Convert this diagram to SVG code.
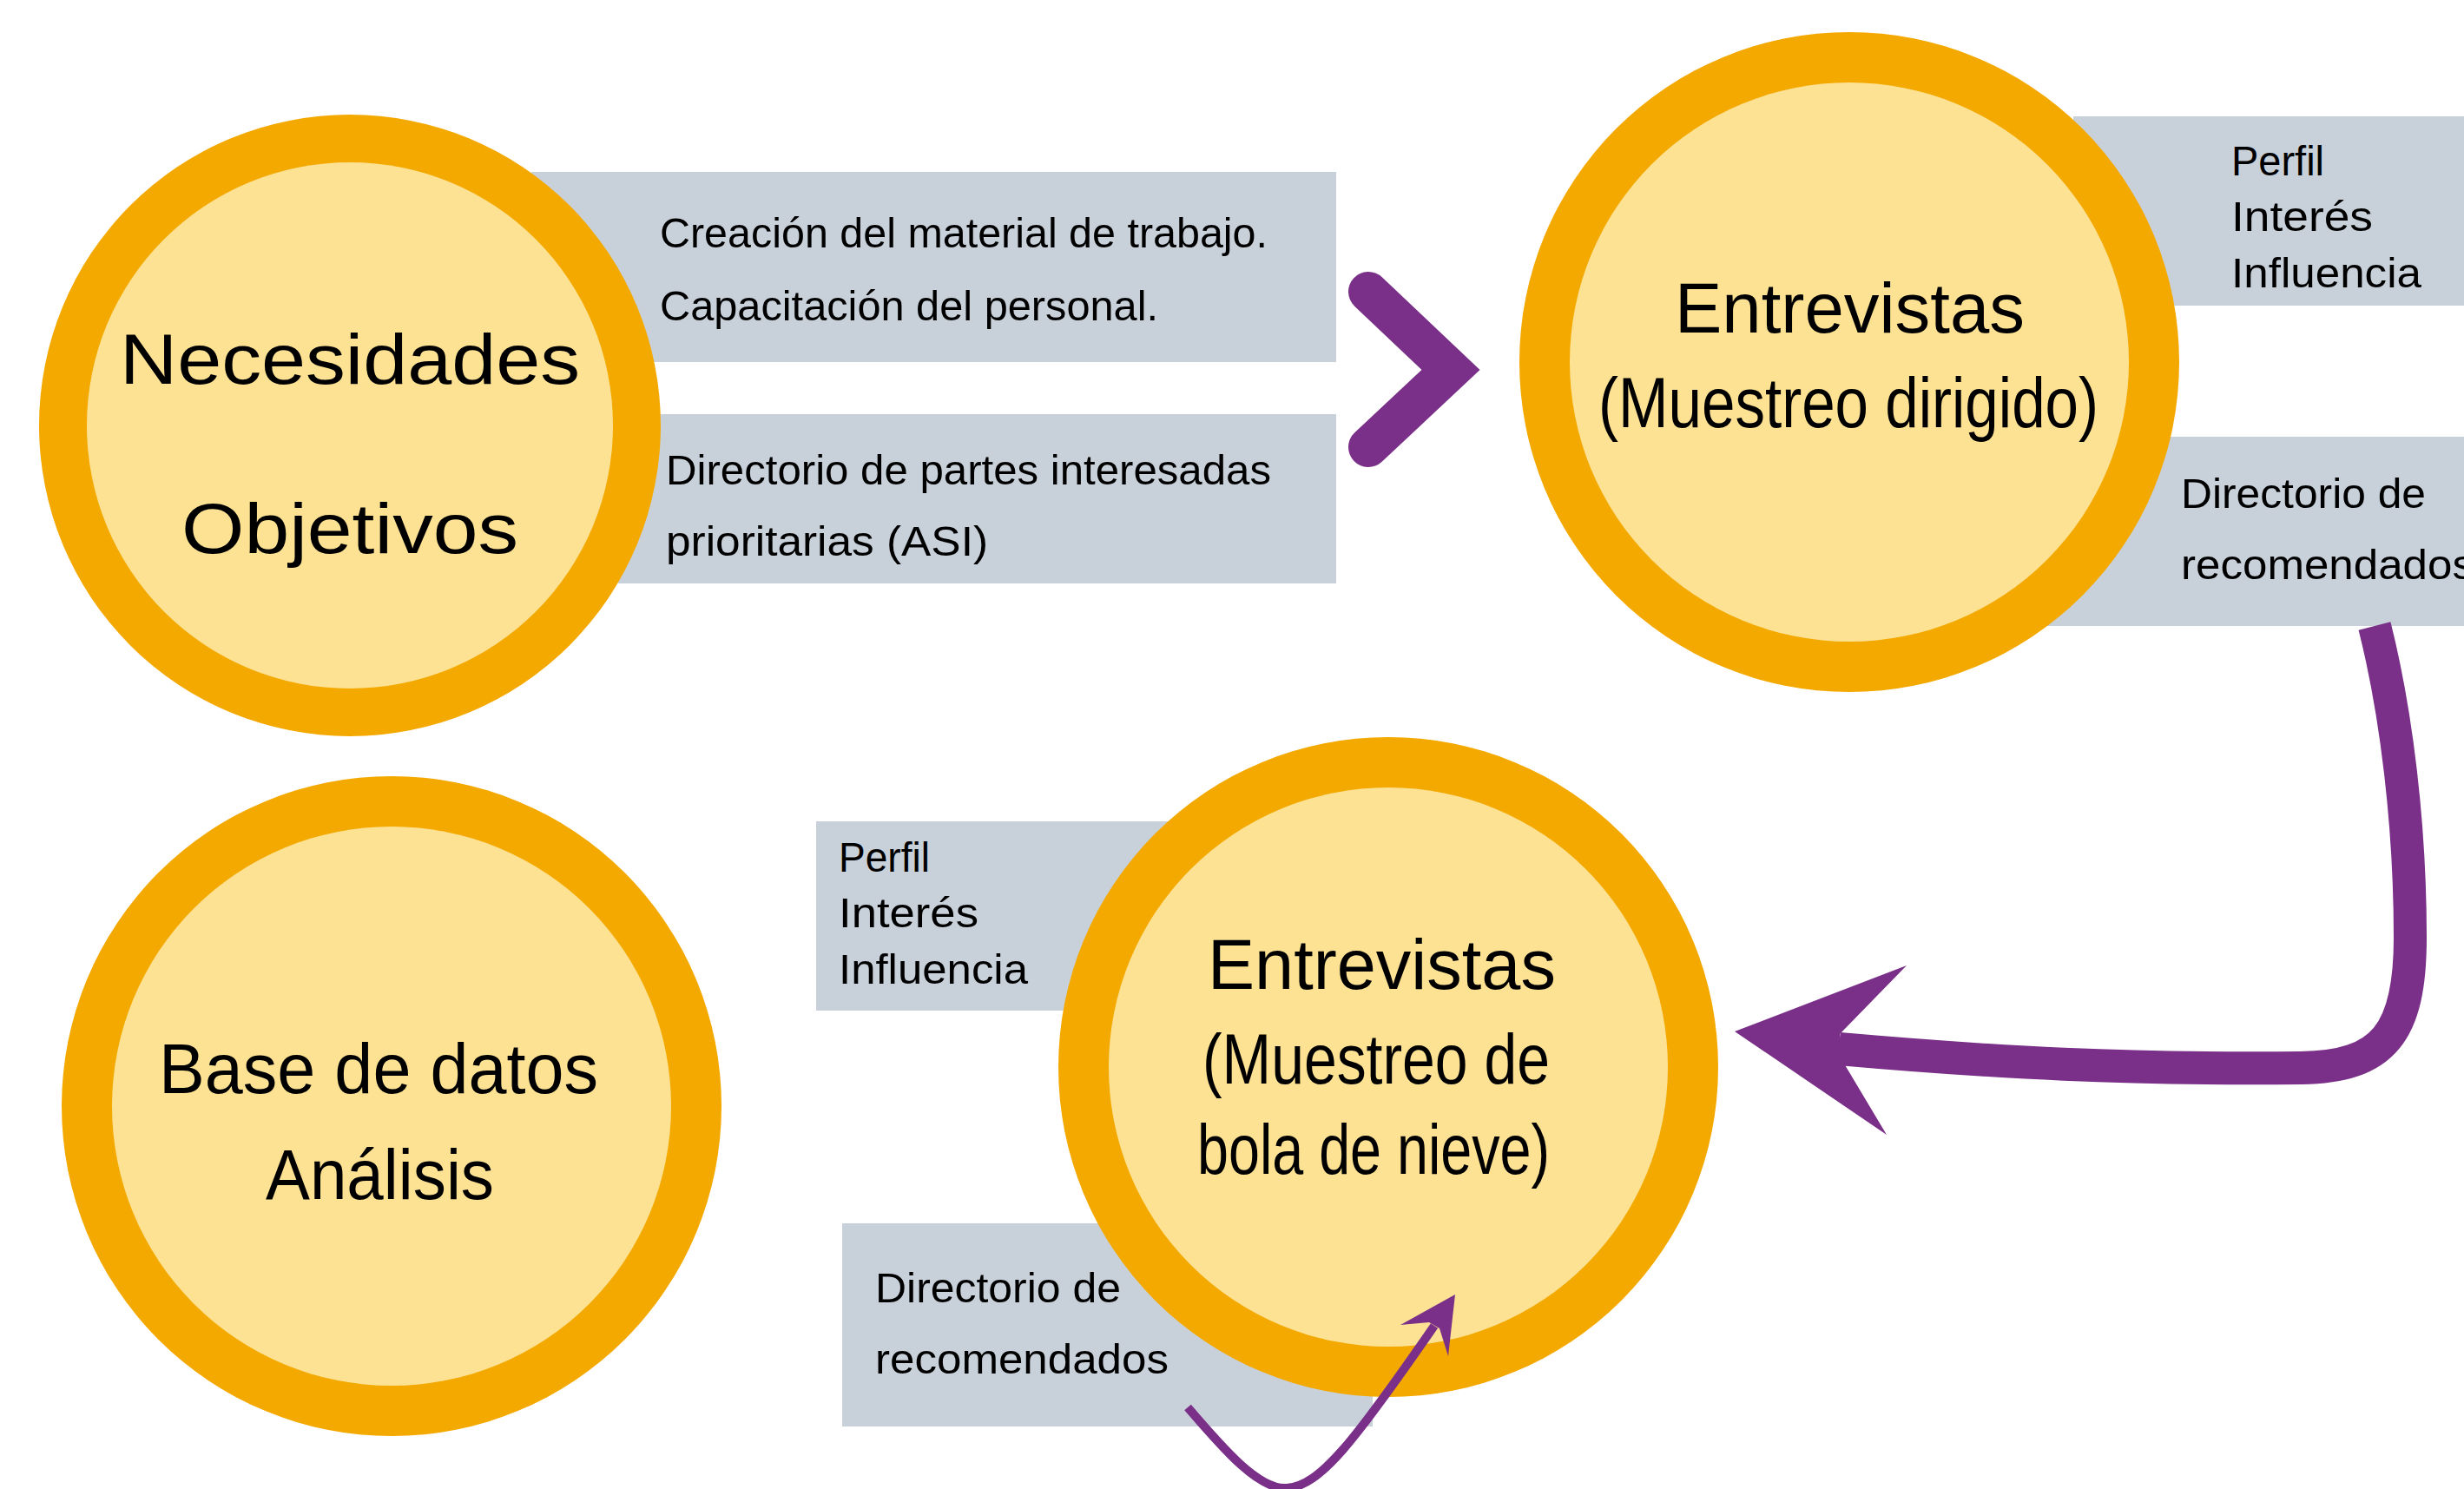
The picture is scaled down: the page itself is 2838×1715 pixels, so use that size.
<svg xmlns="http://www.w3.org/2000/svg" width="2838" height="1715" viewBox="0 0 2838 1715">
<style>
.box{fill:#C8D0D9}
.ring{fill:#F4A900}
.core{fill:#FDE293}
.t{font-family:"Liberation Sans",Arial,sans-serif;fill:#000}
.big{font-size:82px}
.sm{font-size:48px}
.con{fill:none;stroke:#7A3088}
.ah{fill:#7A3088}
</style>
<rect width="2838" height="1715" fill="#fff"/>
<g id="labels">
  <g id="box-material"><rect class="box" x="612" y="198" width="927" height="219"/>
    <text class="t sm" x="760" y="285" textLength="700" lengthAdjust="spacingAndGlyphs">Creación del material de trabajo.</text>
    <text class="t sm" x="760" y="369" textLength="574" lengthAdjust="spacingAndGlyphs">Capacitación del personal.</text></g>
  <g id="box-directorio-asi"><rect class="box" x="712" y="477" width="827" height="195"/>
    <text class="t sm" x="767" y="558" textLength="697" lengthAdjust="spacingAndGlyphs">Directorio de partes interesadas</text>
    <text class="t sm" x="767" y="640" textLength="371" lengthAdjust="spacingAndGlyphs">prioritarias (ASI)</text></g>
  <g id="box-perfil-1"><rect class="box" x="2388" y="134" width="450" height="218"/>
    <text class="t sm" x="2570" y="202" textLength="107" lengthAdjust="spacingAndGlyphs">Perfil</text>
    <text class="t sm" x="2570" y="266" textLength="163" lengthAdjust="spacingAndGlyphs">Interés</text>
    <text class="t sm" x="2570" y="331" textLength="219" lengthAdjust="spacingAndGlyphs">Influencia</text></g>
  <g id="box-recomendados-1"><rect class="box" x="2355" y="503" width="483" height="218"/>
    <text class="t sm" x="2512" y="585" textLength="282" lengthAdjust="spacingAndGlyphs">Directorio de</text>
    <text class="t sm" x="2512" y="667" textLength="338" lengthAdjust="spacingAndGlyphs">recomendados</text></g>
  <g id="box-perfil-2"><rect class="box" x="940" y="946" width="406" height="218"/>
    <text class="t sm" x="966" y="1004" textLength="105" lengthAdjust="spacingAndGlyphs">Perfil</text>
    <text class="t sm" x="966" y="1068" textLength="161" lengthAdjust="spacingAndGlyphs">Interés</text>
    <text class="t sm" x="966" y="1133" textLength="218" lengthAdjust="spacingAndGlyphs">Influencia</text></g>
  <g id="box-recomendados-2"><rect class="box" x="970" y="1409" width="611" height="234"/>
    <text class="t sm" x="1008" y="1500" textLength="283" lengthAdjust="spacingAndGlyphs">Directorio de</text>
    <text class="t sm" x="1008" y="1582" textLength="338" lengthAdjust="spacingAndGlyphs">recomendados</text></g>
</g>
<g id="node-necesidades">
  <circle class="ring" cx="403" cy="490" r="358"/>
  <circle class="core" cx="403" cy="490" r="303"/>
  <text class="t big" x="138" y="442" textLength="530" lengthAdjust="spacingAndGlyphs">Necesidades</text>
  <text class="t big" x="209" y="637" textLength="388" lengthAdjust="spacingAndGlyphs">Objetivos</text>
</g>
<g id="node-entrevistas-dirigido">
  <circle class="ring" cx="2130" cy="417" r="380"/>
  <circle class="core" cx="2130" cy="417" r="322"/>
  <text class="t big" x="1929" y="383" textLength="403" lengthAdjust="spacingAndGlyphs">Entrevistas</text>
  <text class="t big" x="1841" y="492" textLength="576" lengthAdjust="spacingAndGlyphs">(Muestreo dirigido)</text>
</g>
<g id="node-entrevistas-bola">
  <circle class="ring" cx="1599" cy="1229" r="380"/>
  <circle class="core" cx="1599" cy="1229" r="322"/>
  <text class="t big" x="1391" y="1139" textLength="401" lengthAdjust="spacingAndGlyphs">Entrevistas</text>
  <text class="t big" x="1385" y="1248" textLength="400" lengthAdjust="spacingAndGlyphs">(Muestreo de</text>
  <text class="t big" x="1379" y="1352" textLength="406" lengthAdjust="spacingAndGlyphs">bola de nieve)</text>
</g>
<g id="node-base-datos">
  <circle class="ring" cx="451" cy="1274" r="380"/>
  <circle class="core" cx="451" cy="1274" r="322"/>
  <text class="t big" x="183" y="1259" textLength="506" lengthAdjust="spacingAndGlyphs">Base de datos</text>
  <text class="t big" x="306" y="1381" textLength="263" lengthAdjust="spacingAndGlyphs">Análisis</text>
</g>
<g id="connectors">
  <path class="con" d="M1576 336 L1671 426 L1576 515" stroke-width="46" stroke-linecap="round" stroke-linejoin="miter"/>
  <path class="con" d="M2735 721 C2760 820 2776 950 2776 1080 C2776 1190 2745 1229 2650 1230 C2450 1232 2300 1224 2118 1208" stroke-width="38"/>
  <polygon class="ah" points="1998,1188 2196,1112 2119,1191 2124,1225 2173,1307"/>
  <path class="con" d="M1368 1621 C1410 1670 1450 1716 1482 1714 C1520 1712 1560 1660 1652 1527" stroke-width="10"/>
  <polygon class="ah" points="1676,1491 1613,1526 1646,1523 1658,1530 1668,1562"/>
</g>
</svg>
